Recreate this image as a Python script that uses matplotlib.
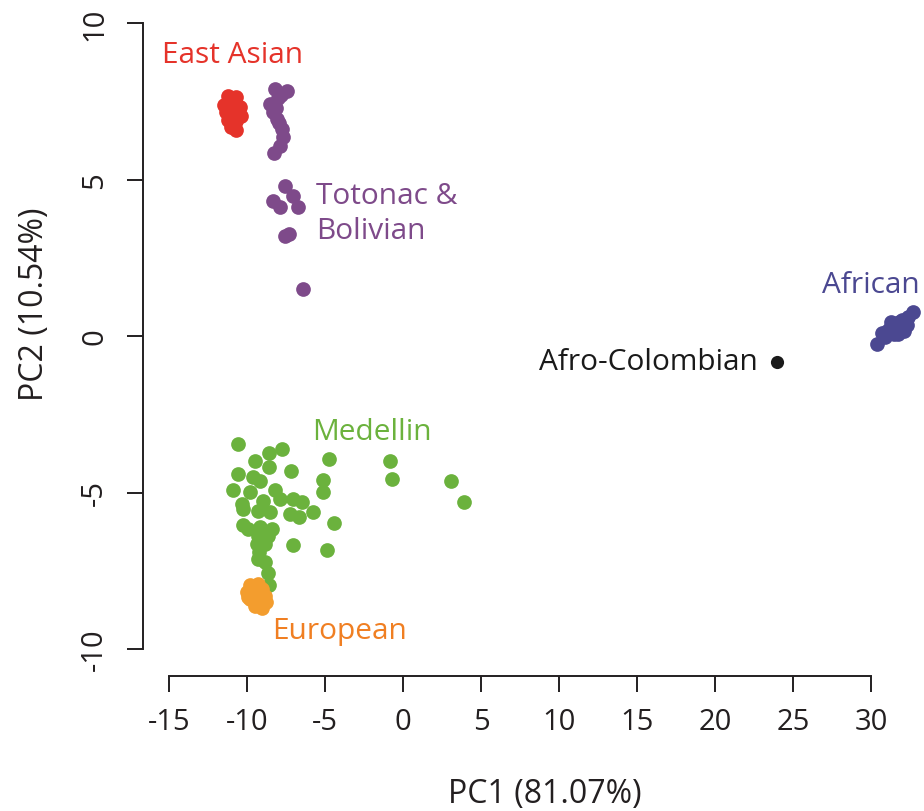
import matplotlib
matplotlib.use("Agg")
import matplotlib.pyplot as plt

plt.rcParams['font.family'] = ['Open Sans', 'DejaVu Sans']
plt.rcParams['axes.unicode_minus'] = False

# PCA coordinates
east_asian_pc1 = [-11.22, -10.71, -11.47, -10.96, -10.45, -11.35, -10.83, -10.38, -11.22, -10.71, -11.03, -10.71, -11.0, -10.6]
east_asian_pc2 = [7.67, 7.64, 7.38, 7.38, 7.32, 7.16, 7.12, 7.03, 6.90, 6.87, 6.68, 6.58, 7.5, 7.25]

native_pc1 = [-7.44, -8.20, -8.50, -8.08, -7.76, -7.70, -7.90, -8.27, -8.0, -8.35, -7.85, -8.15, -7.95,
              -7.56, -7.05, -6.73, -8.33, -7.88, -7.30, -7.56, -6.41]
native_pc2 = [7.83, 7.89, 7.41, 6.93, 6.61, 6.36, 6.07, 5.85, 7.6, 7.15, 7.7, 7.3, 6.8,
              4.79, 4.47, 4.12, 4.31, 4.12, 3.26, 3.19, 1.50]

medellin_pc1 = [-10.58, -7.76, -8.59, -9.49, -8.59, -7.18, -4.74, -0.83, -0.71, 3.08,
                3.91, -5.13, -5.13, -10.58, -10.90, -9.62, -9.17, -8.21, -9.81, -10.32,
                -10.26, -8.97, -9.29, -7.88, -7.05, -6.47, -5.77, -7.24, -6.67, -8.53,
                -10.26, -9.94, -9.17, -8.40, -9.29, -8.65, -9.36, -8.85, -9.23, -4.42,
                -7.05, -4.87, -9.29, -8.85, -8.65, -8.59]
medellin_pc2 = [-3.45, -3.61, -3.74, -3.99, -4.19, -4.31, -3.93, -3.99, -4.57, -4.63,
                -5.30, -4.60, -4.98, -4.41, -4.92, -4.50, -4.63, -4.92, -4.98, -5.37,
                -5.53, -5.27, -5.59, -5.21, -5.21, -5.30, -5.62, -5.69, -5.78, -5.62,
                -6.04, -6.17, -6.10, -6.17, -6.39, -6.39, -6.65, -6.65, -6.90, -5.97,
                -6.68, -6.84, -7.12, -7.22, -7.57, -7.96]

european_pc1 = [-9.81, -9.29, -9.04, -10.0, -9.49, -8.85, -9.81, -9.17, -8.78, -9.49, -9.04, -9.94]
european_pc2 = [-7.96, -7.92, -8.08, -8.18, -8.24, -8.31, -8.40, -8.47, -8.50, -8.63, -8.69, -8.34]

african_pc1 = [30.38, 30.9, 31.2, 31.5, 31.6, 31.9, 32.0, 32.3, 32.4, 32.7, 31.3, 31.0, 32.1, 31.7, 30.7, 31.8]
african_pc2 = [-0.26, -0.03, 0.25, 0.05, 0.35, 0.20, 0.50, 0.35, 0.60, 0.77, 0.45, 0.15, 0.15, 0.05, 0.1, 0.45]

afro_colombian_pc1 = [23.97]
afro_colombian_pc2 = [-0.83]

groups = [
    (east_asian_pc1, east_asian_pc2, "#E5332A"),
    (native_pc1, native_pc2, "#7E4A8A"),
    (medellin_pc1, medellin_pc2, "#6BB23D"),
    (european_pc1, european_pc2, "#F39D2E"),
    (african_pc1, african_pc2, "#4B4891"),
    (afro_colombian_pc1, afro_colombian_pc2, "#1A1A1A"),
]

fig = plt.figure(figsize=(9.24, 8.12), dpi=100)
W, H = 924, 812
ax = fig.add_axes([150 / W, 1 - 670 / H, (924 - 150) / W, (670 - 10) / H])

for xs, ys, col in groups:
    size = 90 if col == "#1A1A1A" else 112
    ax.scatter(xs, ys, s=size, c=col, linewidths=0, zorder=3)

ax.set_xlim((150 - 403) / 15.6, (924 - 403) / 15.6)
ax.set_ylim((337 - 670) / 31.3, (337 - 10) / 31.3)

# R-style detached axes
for side in ["top", "right"]:
    ax.spines[side].set_visible(False)
ax.spines["left"].set_position(("outward", 5))
ax.spines["bottom"].set_position(("outward", 5))
ax.spines["left"].set_bounds(-10, 10)
ax.spines["bottom"].set_bounds(-15, 30)
for side in ["left", "bottom"]:
    ax.spines[side].set_linewidth(1.4)
    ax.spines[side].set_color("#231F20")

ax.set_xticks(range(-15, 31, 5))
ax.set_yticks(range(-10, 11, 5))
ax.tick_params(direction="out", length=11.5, width=1.4, colors="#231F20", labelsize=21)
ax.tick_params(axis="x", pad=11)
ax.tick_params(axis="y", pad=13)
for lab in ax.get_yticklabels():
    lab.set_rotation(90)
    lab.set_va("center")

fig.text(545 / W, 1 - 795 / H, "PC1 (81.07%)", ha="center", va="center", fontsize=23, color="#231F20")
fig.text(35 / W, 1 - 304 / H, "PC2 (10.54%)", ha="center", va="center", rotation=90, fontsize=23, color="#231F20")

lab_size = 21.5
ax.text(-10.9, 9.0, "East Asian", color="#E5332A", fontsize=lab_size, ha="center", va="center")
ax.text(-5.55, 3.93, "Totonac &\nBolivian", color="#7E4A8A", fontsize=lab_size, ha="left", va="center", linespacing=1.3)
ax.text(-1.99, -3.04, "Medellin", color="#6BB23D", fontsize=lab_size, ha="center", va="center")
ax.text(-4.04, -9.42, "European", color="#F07F22", fontsize=lab_size, ha="center", va="center")
ax.text(30.0, 1.63, "African", color="#4B4891", fontsize=lab_size, ha="center", va="center")
ax.text(22.75, -0.83, "Afro-Colombian", color="#1A1A1A", fontsize=lab_size, ha="right", va="center")

fig.savefig("out.png", dpi=100)
